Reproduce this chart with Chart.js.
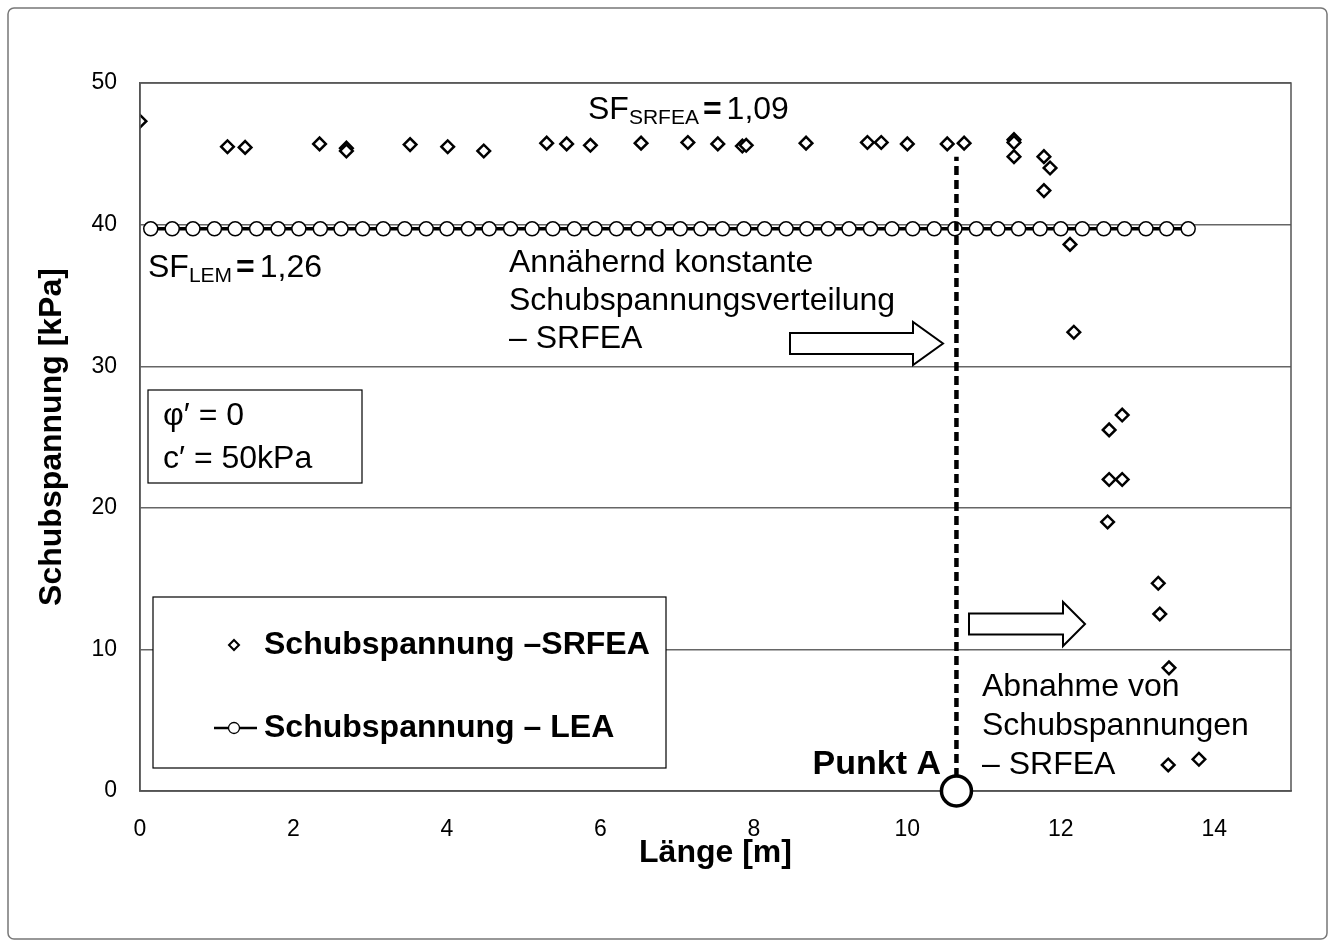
<!DOCTYPE html>
<html>
<head>
<meta charset="utf-8">
<script src="https://cdn.jsdelivr.net/npm/chart.js@4.4.1/dist/chart.umd.min.js"></script>
<style>
  html, body { margin: 0; padding: 0; background: #fff; }
</style>
</head>
<body>
<canvas id="chart" width="1334" height="947"></canvas>
<script>
// Schubspannung entlang der Gleitfläche (SRFEA / LEA)
const srfeaX = [0, 1.14, 1.37, 2.34, 2.69, 2.69, 3.52, 4.01, 4.48, 5.30, 5.56, 5.87, 6.53, 7.14, 7.53,
  7.85, 7.90, 8.68, 9.48, 9.66, 10.00, 10.52, 10.74, 11.39, 11.39, 11.39, 11.78, 11.86, 11.78, 12.12,
  12.17, 12.80, 12.63, 12.63, 12.80, 12.61, 13.27, 13.29, 13.41, 13.40, 13.80];
const srfeaY = [47.3, 45.5, 45.45, 45.7, 45.4, 45.2, 45.65, 45.5, 45.2, 45.75, 45.7, 45.6, 45.75, 45.8, 45.7,
  45.55, 45.6, 45.75, 45.8, 45.8, 45.7, 45.7, 45.75, 46.0, 45.8, 44.8, 44.8, 44.0, 42.4, 38.6,
  32.4, 26.55, 25.5, 22.0, 22.0, 19.0, 14.67, 12.5, 8.7, 1.84, 2.24];

const leaX = [0.14, 0.42, 0.69, 0.97, 1.24, 1.52, 1.80, 2.07, 2.35, 2.62, 2.90, 3.17, 3.45, 3.73, 4.00,
  4.28, 4.55, 4.83, 5.11, 5.38, 5.66, 5.93, 6.21, 6.49, 6.76, 7.04, 7.31, 7.59, 7.87, 8.14, 8.42, 8.69,
  8.97, 9.24, 9.52, 9.80, 10.07, 10.35, 10.62, 10.90, 11.18, 11.45, 11.73, 12.00, 12.28, 12.56, 12.83,
  13.11, 13.38, 13.66];
const leaY = [39.7, 39.7, 39.7, 39.7, 39.7, 39.7, 39.7, 39.7, 39.7, 39.7, 39.7, 39.7, 39.7, 39.7, 39.7,
  39.7, 39.7, 39.7, 39.7, 39.7, 39.7, 39.7, 39.7, 39.7, 39.7, 39.7, 39.7, 39.7, 39.7, 39.7, 39.7, 39.7,
  39.7, 39.7, 39.7, 39.7, 39.7, 39.7, 39.7, 39.7, 39.7, 39.7, 39.7, 39.7, 39.7, 39.7, 39.7,
  39.7, 39.7, 39.7];

const seriesLabels = ['Schubspannung –SRFEA', 'Schubspannung – LEA'];
const xTicks = [0, 2, 4, 6, 8, 10, 12, 14];
const yTicks = [0, 10, 20, 30, 40, 50];
const punktA = { x: 10.64, y: 0, top: 44.8 };

const FONT = '"Liberation Sans", Arial, sans-serif';

function toPoints(xs, ys) {
  return xs.map((x, i) => ({ x: x, y: ys[i] }));
}

// Pfeil (Blockpfeil, hohl)
function blockArrow(ctx, x0, x1, xh, yc, shaftH, headH) {
  ctx.beginPath();
  ctx.moveTo(x0, yc - shaftH / 2);
  ctx.lineTo(xh, yc - shaftH / 2);
  ctx.lineTo(xh, yc - headH / 2);
  ctx.lineTo(x1, yc);
  ctx.lineTo(xh, yc + headH / 2);
  ctx.lineTo(xh, yc + shaftH / 2);
  ctx.lineTo(x0, yc + shaftH / 2);
  ctx.closePath();
  ctx.fillStyle = '#fff';
  ctx.fill();
  ctx.lineWidth = 2;
  ctx.strokeStyle = '#000';
  ctx.stroke();
}

function sfText(ctx, x, y, sub, val) {
  ctx.fillStyle = '#000';
  ctx.textAlign = 'left';
  ctx.textBaseline = 'alphabetic';
  ctx.font = '32px ' + FONT;
  ctx.fillText('SF', x, y);
  let w = ctx.measureText('SF').width;
  ctx.font = '21px ' + FONT;
  ctx.fillText(sub, x + w, y + 5);
  w += ctx.measureText(sub).width + 4;
  ctx.font = 'bold 32px ' + FONT;
  ctx.fillText('=', x + w, y);
  w += ctx.measureText('=').width + 5;
  ctx.font = '32px ' + FONT;
  ctx.fillText(val, x + w, y);
}

function lines(ctx, arr, x, y, step) {
  arr.forEach((t, i) => ctx.fillText(t, x, y + i * step));
}

const decor = {
  id: 'decor',
  beforeDraw(chart) {
    const ctx = chart.ctx;
    ctx.save();
    ctx.fillStyle = '#fff';
    ctx.fillRect(0, 0, chart.width, chart.height);
    ctx.restore();
  },
  afterDatasetsDraw(chart) {
    const ctx = chart.ctx;
    const a = chart.chartArea;
    const xs = chart.scales.x, ys = chart.scales.y;
    ctx.save();

    // Rahmen Plotfläche
    ctx.strokeStyle = '#555';
    ctx.lineWidth = 1.5;
    ctx.strokeRect(a.left, a.top, a.right - a.left, a.bottom - a.top);

    // äußerer Rahmen
    ctx.strokeStyle = '#777';
    ctx.lineWidth = 1.5;
    ctx.beginPath();
    ctx.roundRect(8, 8, 1319, 931, 6);
    ctx.stroke();

    // Punkt A – gestrichelte Linie
    const px = xs.getPixelForValue(punktA.x);
    ctx.strokeStyle = '#000';
    ctx.lineWidth = 4.5;
    ctx.setLineDash([9, 5]);
    ctx.beginPath();
    ctx.moveTo(px, ys.getPixelForValue(punktA.y));
    ctx.lineTo(px, ys.getPixelForValue(punktA.top));
    ctx.stroke();
    ctx.setLineDash([]);

    ctx.beginPath();
    ctx.arc(px, ys.getPixelForValue(punktA.y), 15, 0, Math.PI * 2);
    ctx.fillStyle = '#fff';
    ctx.fill();
    ctx.lineWidth = 3.5;
    ctx.stroke();

    ctx.fillStyle = '#000';
    ctx.font = 'bold 34px ' + FONT;
    ctx.textAlign = 'right';
    ctx.textBaseline = 'alphabetic';
    ctx.fillText('Punkt A', 941, 774);

    // Sicherheitsfaktoren
    sfText(ctx, 588, 119, 'SRFEA', '1,09');
    sfText(ctx, 148, 277, 'LEM', '1,26');

    // Beschriftungen
    ctx.fillStyle = '#000';
    ctx.textAlign = 'left';
    ctx.font = '32px ' + FONT;
    lines(ctx, ['Annähernd konstante', 'Schubspannungsverteilung', '– SRFEA'], 509, 272, 38);
    lines(ctx, ['Abnahme von', 'Schubspannungen', '– SRFEA'], 982, 696, 39);

    blockArrow(ctx, 790, 943, 913, 343.5, 21, 43);
    blockArrow(ctx, 969, 1085, 1063, 624, 21, 44);

    // Materialkennwerte
    ctx.fillStyle = '#fff';
    ctx.fillRect(148, 390, 214, 93);
    ctx.strokeStyle = '#000';
    ctx.lineWidth = 1.2;
    ctx.strokeRect(148, 390, 214, 93);
    ctx.fillStyle = '#000';
    ctx.font = '32px ' + FONT;
    ctx.fillText('φ′ = 0', 163, 425);
    ctx.fillText('c′ = 50kPa', 163, 468);

    // Legende
    ctx.fillStyle = '#fff';
    ctx.fillRect(153, 597, 513, 171);
    ctx.strokeRect(153, 597, 513, 171);
    const rows = [645, 728];
    chart.data.datasets.forEach((ds, i) => {
      const cy = rows[i];
      const cx = 234;
      if (ds.showLine) {
        ctx.strokeStyle = '#000';
        ctx.lineWidth = 2.5;
        ctx.beginPath();
        ctx.moveTo(214, cy);
        ctx.lineTo(257, cy);
        ctx.stroke();
        ctx.beginPath();
        ctx.arc(cx, cy, 5.5, 0, Math.PI * 2);
        ctx.fillStyle = '#fff';
        ctx.fill();
        ctx.lineWidth = 1.3;
        ctx.stroke();
      } else {
        const r = 5;
        ctx.beginPath();
        ctx.moveTo(cx, cy - r);
        ctx.lineTo(cx + r, cy);
        ctx.lineTo(cx, cy + r);
        ctx.lineTo(cx - r, cy);
        ctx.closePath();
        ctx.fillStyle = '#fff';
        ctx.fill();
        ctx.strokeStyle = '#000';
        ctx.lineWidth = 2;
        ctx.stroke();
      }
      ctx.fillStyle = '#000';
      ctx.font = 'bold 32px ' + FONT;
      ctx.textAlign = 'left';
      ctx.textBaseline = 'middle';
      ctx.fillText(ds.label, 264, cy);
    });

    ctx.restore();
  }
};

new Chart(document.getElementById('chart').getContext('2d'), {
  type: 'scatter',
  data: {
    datasets: [
      {
        label: seriesLabels[0],
        data: toPoints(srfeaX, srfeaY),
        showLine: false,
        pointStyle: 'rectRot',
        pointRadius: 6.3,
        pointBackgroundColor: '#fff',
        pointBorderColor: '#000',
        pointBorderWidth: 2.5,
        order: 1
      },
      {
        label: seriesLabels[1],
        data: toPoints(leaX, leaY),
        showLine: true,
        borderColor: '#000',
        borderWidth: 3.5,
        pointStyle: 'circle',
        pointRadius: 7,
        pointBackgroundColor: '#fff',
        pointBorderColor: '#000',
        pointBorderWidth: 1.5,
        order: 2
      }
    ]
  },
  options: {
    responsive: false,
    animation: false,
    devicePixelRatio: 1,
    layout: { padding: { left: 0, top: 83, right: 43, bottom: 0 } },
    plugins: {
      legend: { display: false },
      tooltip: { enabled: false }
    },
    scales: {
      x: {
        type: 'linear',
        min: 0,
        max: 15,
        afterFit: s => { s.height = 156; },
        afterBuildTicks: s => { s.ticks = xTicks.map(v => ({ value: v })); },
        ticks: { color: '#000', font: { family: FONT, size: 23 }, padding: 17, maxRotation: 0 },
        grid: { display: false },
        border: { display: true, color: '#555', width: 1.5 },
        title: {
          display: true,
          text: 'Länge [m]',
          color: '#000',
          font: { family: FONT, size: 32, weight: 'bold' },
          padding: { top: 0, bottom: 75 }
        }
      },
      y: {
        type: 'linear',
        min: 0,
        max: 50,
        afterFit: s => { s.width = 140; },
        afterBuildTicks: s => { s.ticks = yTicks.map(v => ({ value: v })); },
        ticks: { color: '#000', font: { family: FONT, size: 23 }, padding: 23 },
        grid: { color: '#666', lineWidth: 1.4, drawTicks: false },
        border: { display: true, color: '#555', width: 1.5 },
        title: {
          display: true,
          text: 'Schubspannung [kPa]',
          color: '#000',
          font: { family: FONT, size: 32, weight: 'bold' },
          padding: { top: 33, bottom: 0 }
        }
      }
    }
  },
  plugins: [decor]
});
</script>
</body>
</html>
